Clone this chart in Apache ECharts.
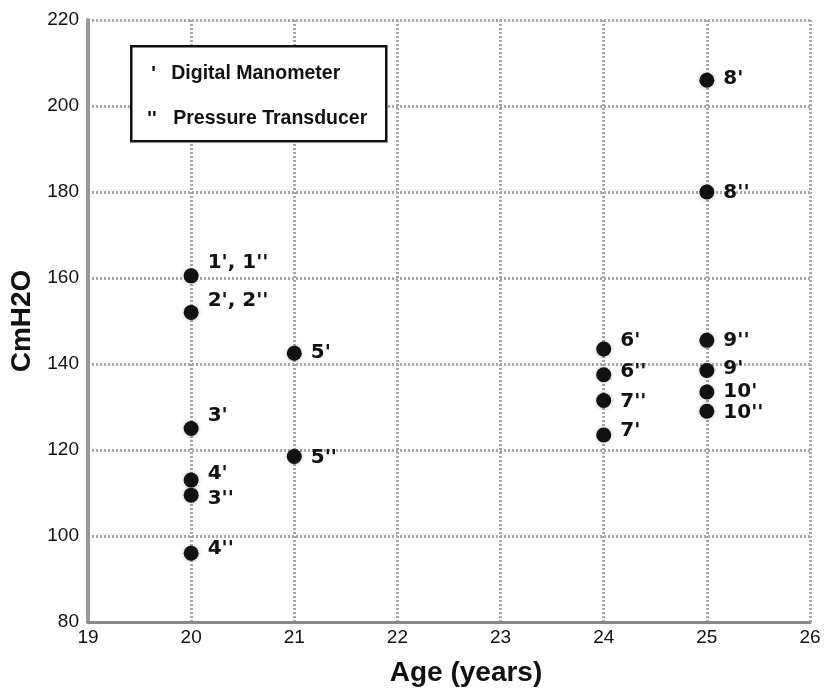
<!DOCTYPE html>
<html><head><meta charset="utf-8">
<script src="https://cdn.jsdelivr.net/npm/echarts@6/dist/echarts.min.js"></script>
<style>html,body{margin:0;padding:0;background:#fff}#c{width:824px;height:694px}</style>
</head><body><div id="c"></div>
<script>
// Data
const ages = [20, 20, 20, 20, 20, 20, 21, 21, 24, 24, 24, 24, 25, 25, 25, 25, 25, 25];
const values = [160.5, 152, 125, 113, 109.5, 96, 142.5, 118.5, 143.5, 137.5, 131.5, 123.5, 206, 180, 145.5, 138.5, 133.5, 129];
const pointLabels = ["1', 1''", "2', 2''", "3'", "4'", "3''", "4''", "5'", "5''", "6'", "6''", "7''", "7'", "8'", "8''", "9''", "9'", "10'", "10''"];
const xTicks = [19, 20, 21, 22, 23, 24, 25, 26];
const yTicks = [80, 100, 120, 140, 160, 180, 200, 220];
const legendMarks = ["'", "''"];
const legendNames = ["Digital Manometer", "Pressure Transducer"];

// label vertical nudges (style only)
const labelDy = [-13, -12, -13, -6, 4, -4, 0, 1, -8, -3, 1, -4, -1, 1, 0, -2, 0, 1];

const chart = echarts.init(document.getElementById('c'));
const gridLine = {show: true, lineStyle: {color: '#a8a8a8', type: [2, 2], width: 3}};
const legendFont = {fontFamily: 'Liberation Sans', fontWeight: 'bold', fontSize: 19.5, fill: '#111', verticalAlign: 'middle'};
chart.setOption({
  animation: false,
  backgroundColor: '#fff',
  grid: {left: 88, right: 14, top: 20, bottom: 72, containLabel: false, outerBoundsMode: 'none'},
  xAxis: {
    type: 'value', min: xTicks[0], max: xTicks[xTicks.length - 1], interval: 1,
    name: 'Age (years)', nameLocation: 'middle', nameGap: 37,
    nameTextStyle: {fontFamily: 'Liberation Sans', fontWeight: 'bold', fontSize: 28, color: '#111', padding: [0, 0, 0, 34]},
    axisLine: {show: true, lineStyle: {color: '#8a8a8a', width: 3}},
    axisTick: {show: false},
    axisLabel: {fontFamily: 'Liberation Sans', fontSize: 19, color: '#111', margin: 6},
    splitLine: gridLine
  },
  yAxis: {
    type: 'value', min: yTicks[0], max: yTicks[yTicks.length - 1], interval: 20,
    name: 'CmH2O', nameLocation: 'middle', nameGap: 52, nameRotate: 90,
    nameTextStyle: {fontFamily: 'Liberation Sans', fontWeight: 'bold', fontSize: 28, color: '#111'},
    axisLine: {show: true, lineStyle: {color: '#999', width: 4}},
    axisTick: {show: false},
    axisLabel: {fontFamily: 'Liberation Sans', fontSize: 19, color: '#111', margin: 9},
    splitLine: gridLine
  },
  graphic: [{
    type: 'group', left: 130, top: 45, z: 100,
    children: [
      {type: 'rect', z: 100, shape: {x: 0, y: 0, width: 255, height: 95}, style: {fill: '#fff', stroke: '#111', lineWidth: 2.5}},
      {type: 'text', z: 101, style: Object.assign({x: 20, y: 28, text: legendMarks[0]}, legendFont)},
      {type: 'text', z: 101, style: Object.assign({x: 40, y: 27, text: legendNames[0]}, legendFont)},
      {type: 'text', z: 101, style: Object.assign({x: 16, y: 73, text: legendMarks[1]}, legendFont)},
      {type: 'text', z: 101, style: Object.assign({x: 42, y: 72, text: legendNames[1]}, legendFont)}
    ]
  }],
  series: [{
    type: 'scatter',
    symbol: 'circle', symbolSize: 15,
    itemStyle: {color: '#111', opacity: 1, shadowColor: 'rgba(0,0,0,0.25)', shadowBlur: 4},
    data: ages.map((a, i) => ({
      value: [a, values[i]], name: pointLabels[i],
      label: {offset: [0, labelDy[i]]}
    })),
    label: {
      show: true, position: 'right', distance: 9,
      formatter: p => p.name,
      fontFamily: 'DejaVu Sans', fontWeight: 'bold', fontSize: 20, color: '#111'
    },
    z: 5
  }]
});
</script></body></html>
